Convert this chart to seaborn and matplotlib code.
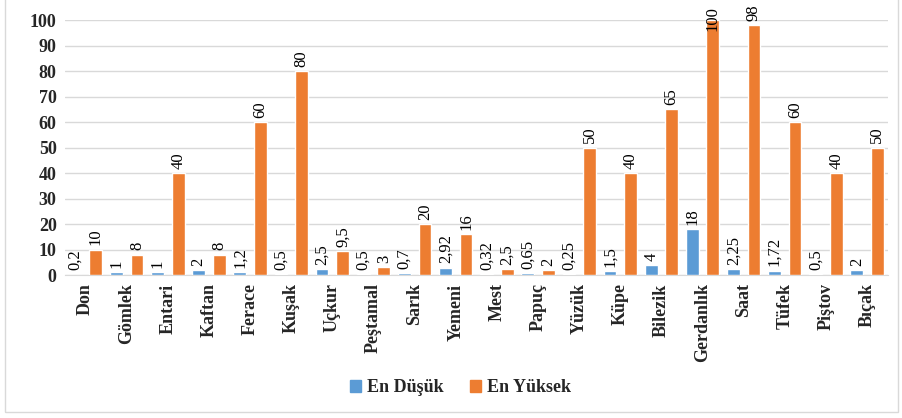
import matplotlib
matplotlib.use("Agg")
import matplotlib.pyplot as plt
import pandas as pd
import seaborn as sns
from matplotlib.patches import Rectangle

items = ["Don", "Gömlek", "Entari", "Kaftan", "Ferace", "Kuşak", "Uçkur", "Peştamal",
         "Sarık", "Yemeni", "Mest", "Papuç", "Yüzük", "Küpe", "Bilezik", "Gerdanlık",
         "Saat", "Tüfek", "Piştov", "Bıçak"]
en_dusuk = [0.2, 1, 1, 2, 1.2, 0.5, 2.5, 0.5, 0.7, 2.92, 0.32, 0.65, 0.25, 1.5, 4, 18,
            2.25, 1.72, 0.5, 2]
en_yuksek = [10, 8, 40, 8, 60, 80, 9.5, 3, 20, 16, 2.5, 2, 50, 40, 65, 100, 98, 60, 40, 50]
series = ["En Düşük", "En Yüksek"]
colors = ["#5B9BD5", "#ED7D31"]

df = pd.DataFrame({
    "item": items * 2,
    "value": en_dusuk + en_yuksek,
    "series": [series[0]] * len(items) + [series[1]] * len(items),
})

sns.set_style("white")
plt.rcParams["font.family"] = ["Liberation Serif", "DejaVu Serif"]

fig = plt.figure(figsize=(9.03, 4.18), dpi=100)
ax = fig.add_axes([0.072, 0.342, 0.911, 0.610])

sns.barplot(data=df, x="item", y="value", hue="series", palette=colors,
            saturation=1, width=1.0, gap=0.38, ax=ax, legend=False, zorder=3)

def fmt(v):
    return ("%g" % v).replace(".", ",")

for cont, vals in zip(ax.containers, [en_dusuk, en_yuksek]):
    anns = ax.bar_label(cont, labels=[fmt(v) for v in vals], rotation=90, padding=3,
                        fontsize=12, color="#000000")
    # label at the top of the scale sits over the bar, like the original
    for a, v in zip(anns, vals):
        if v >= 100:
            a.xyann = (0, -8)

ax.set_ylim(0, 100)
ax.set_xlim(-0.5, len(items) - 0.5)
ax.set_yticks(range(0, 101, 10))
ax.yaxis.grid(True, color="#D9D9D9", linewidth=1, zorder=0)
ax.set_axisbelow(True)
for s in ["top", "right", "left"]:
    ax.spines[s].set_visible(False)
ax.spines["bottom"].set_color("#D9D9D9")
ax.set_xlabel("")
ax.set_ylabel("")
ax.tick_params(axis="both", length=0, pad=6)
for lab in ax.get_yticklabels():
    lab.set_fontweight("bold")
    lab.set_fontsize(13)
for lab in ax.get_xticklabels():
    lab.set_fontweight("bold")
    lab.set_fontsize(13)
    lab.set_rotation(90)

handles = [Rectangle((0, 0), 1, 1, color=c) for c in colors]
fig.legend(handles, series, loc="center", bbox_to_anchor=(0.51, 0.072), ncol=2,
           frameon=False, handlelength=0.6, handleheight=0.6, handletextpad=0.3,
           columnspacing=1.5, prop={"weight": "bold", "size": 13})

fig.add_artist(Rectangle((0.006, 0.014), 0.988, 0.99, transform=fig.transFigure,
                         fill=False, edgecolor="#D9D9D9", linewidth=1))

fig.savefig("out.png", dpi=100)
